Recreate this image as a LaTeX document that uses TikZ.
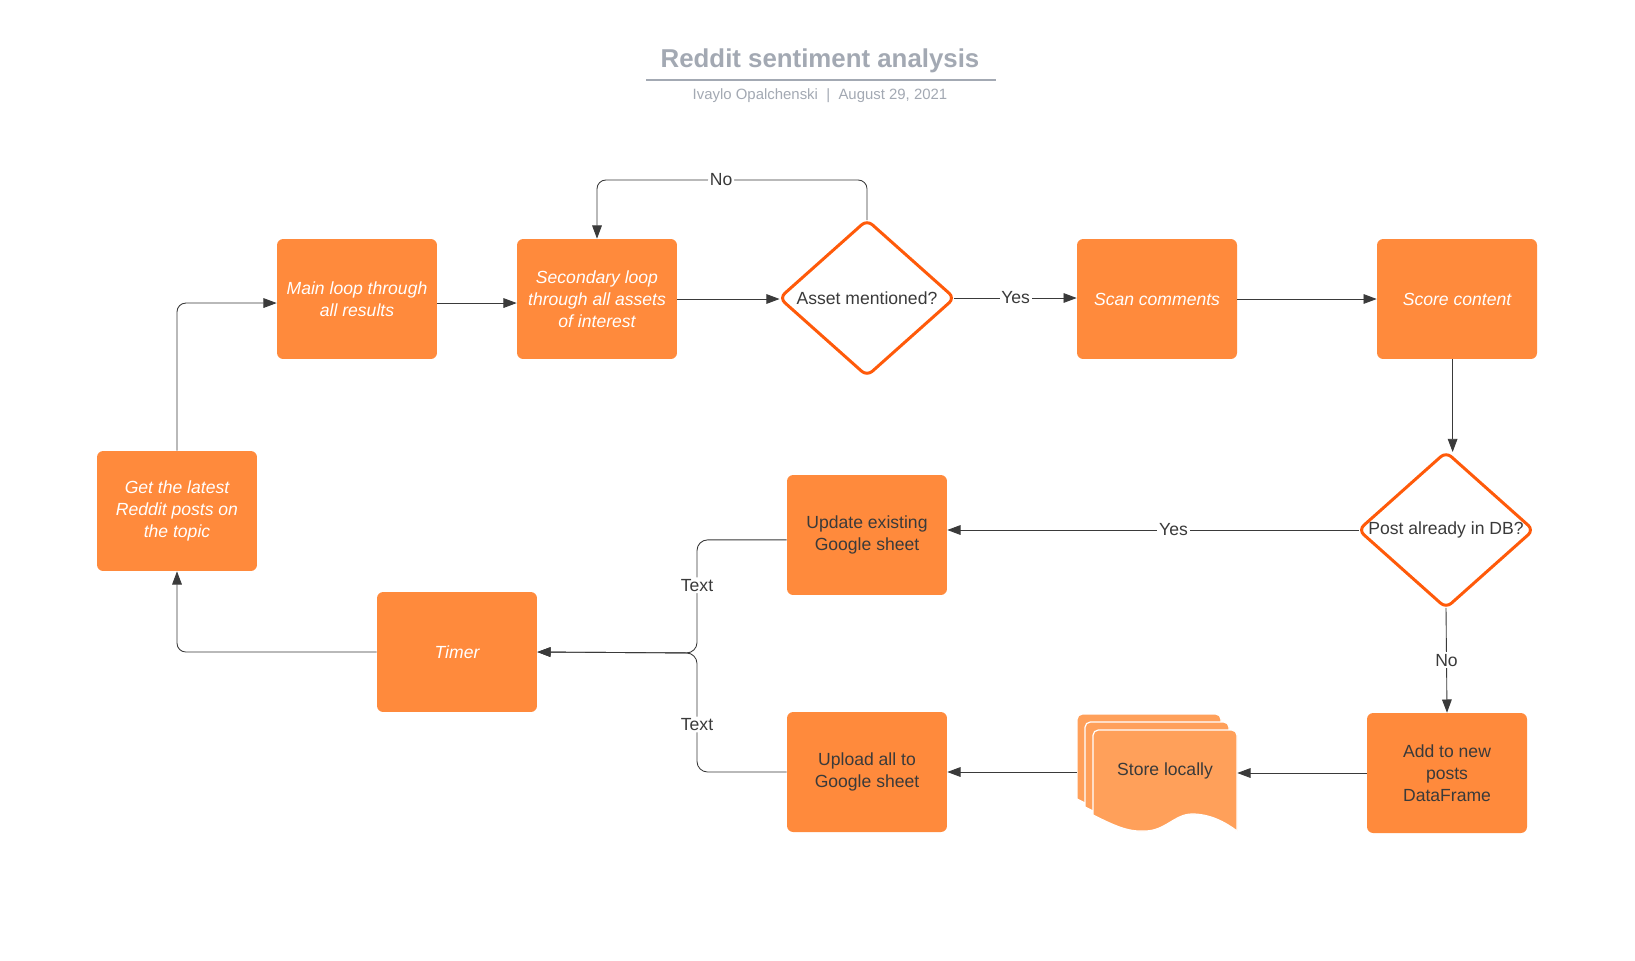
\documentclass[tikz,border=0pt]{standalone}
\usepackage{fontspec}
\setmainfont{Liberation Sans}
\usetikzlibrary{shapes.geometric,arrows.meta}
\definecolor{boxorange}{HTML}{FF8A3C}
\definecolor{docorange}{HTML}{FFA05A}
\definecolor{ringorange}{HTML}{FF5A0A}
\definecolor{titlegray}{HTML}{A3A9B3}
\definecolor{linegray}{HTML}{3A3A3A}
\begin{document}
\begin{tikzpicture}[x=0.02cm, y=-0.02cm,
        every node/.style={font=\fontsize{10}{12.4}\selectfont, align=center},
        task/.style={fill=boxorange, rounded corners=3.5pt, minimum width=3.2cm, minimum height=2.4cm,
                text=white, font=\fontsize{10}{12.4}\selectfont\itshape},
        darktask/.style={task, text=linegray, font=\fontsize{10}{12.4}\selectfont},
        decision/.style={diamond, draw=ringorange, line width=1.7pt, fill=white, rounded corners=4pt,
                minimum width=3.5cm, minimum height=3.12cm, inner sep=0pt, outer sep=0pt},
        arr/.style={draw=linegray, line width=0.5pt, -{Triangle[length=7.5pt,width=5.5pt]}},
        lbl/.style={fill=white, text=linegray, inner sep=1pt}]
        \useasboundingbox[fill=white] (0, 0) rectangle (1635, 960);

        \node[font=\fontsize{14.7}{16}\selectfont\bfseries, text=titlegray] (title) at (820, 61) {Reddit sentiment analysis};
        \draw[titlegray, line width=1.2pt] (646, 80) -- (996, 80);
        \node[font=\fontsize{8.5}{10}\selectfont, text=titlegray] (byline) at (820, 96) {Ivaylo Opalchenski~~|~~August 29, 2021};

        \node[task] (get) at (177, 511) {Get the latest\\Reddit posts on\\the topic};
        \node[task] (main) at (357, 299) {Main loop through\\all results};
        \node[task] (sec) at (597, 299) {Secondary loop\\through all assets\\of interest};
        \node[decision, label={[name=assettext, text=linegray]center:Asset mentioned?}] (asset) at (867, 298) {};
        \node[task] (scan) at (1157, 299) {Scan comments};
        \node[task] (score) at (1457, 299) {Score content};
        \node[decision, label={[name=posttext, text=linegray]center:Post already in DB?}] (post) at (1446, 530) {};
        \node[darktask] (upd) at (867, 535) {Update existing\\Google sheet};
        \node[task] (timer) at (457, 652) {Timer};
        \node[darktask] (upl) at (867, 772) {Upload all to\\Google sheet};
        \node[darktask] (add) at (1447, 773) {Add to new\\posts\\DataFrame};

        \foreach \s in {16, 8, 0} {
                \fill[docorange, draw=white, line width=0.7pt, shift={(-\s, -\s)}]
                        (1093, 815) [rounded corners=3pt] -- (1093, 730) -- (1237, 730) [sharp corners] -- (1237, 831)
                        .. controls (1225, 822) and (1210, 814) .. (1192, 814)
                        .. controls (1175, 814) and (1165, 831) .. (1145, 831)
                        .. controls (1128, 832) and (1115, 826) .. (1093, 815) -- cycle;
            }
        \node[minimum width=3.2cm, minimum height=2.4cm] (store) at (1157, 772) {};
        \node[text=linegray] (storetext) at (1165, 771) {Store locally};

        \coordinate (jn) at (697, 653);

        \draw[arr, rounded corners=5pt] (get.north) |- ([yshift=-2.3pt]main.west);
        \draw[arr] ([yshift=-2.3pt]main.east) -- ([yshift=-2.3pt]sec.west);
        \draw[arr] (sec.east) -- (sec.east -| asset.west);
        \draw[arr, rounded corners=5pt] (asset.north) -- ++(0, -40) -| (sec.north) node[lbl, pos=0.27] {No};
        \draw[arr] (asset.east) -- (asset.east -| scan.west) node[lbl, midway] {Yes};
        \draw[arr] (scan.east) -- (score.west);
        \draw[arr] ([xshift=-2.5pt]score.south) -- ([xshift=-2.5pt]score.south |- post.north);
        \draw[arr] (post.west) -- (post.west -| upd.east) node[lbl, pos=0.45] {Yes};
        \draw[arr] (post.south) -- (add.north) node[lbl, midway] {No};
        \draw[arr] (add.west) -- (add.west -| store.east);
        \draw[arr] (store.west) -- (store.west -| upl.east);
        \draw[arr, rounded corners=6pt] ([yshift=-2.8pt]upd.west) -| (jn) node[lbl, pos=0.7] {Text} -- (timer.east);
        \draw[arr, rounded corners=6pt] (upl.west) -| (jn) node[lbl, pos=0.7] {Text} -- (timer.east);
        \draw[arr, rounded corners=5pt] (timer.west) -| (get.south);
    \end{tikzpicture}
\end{document}
